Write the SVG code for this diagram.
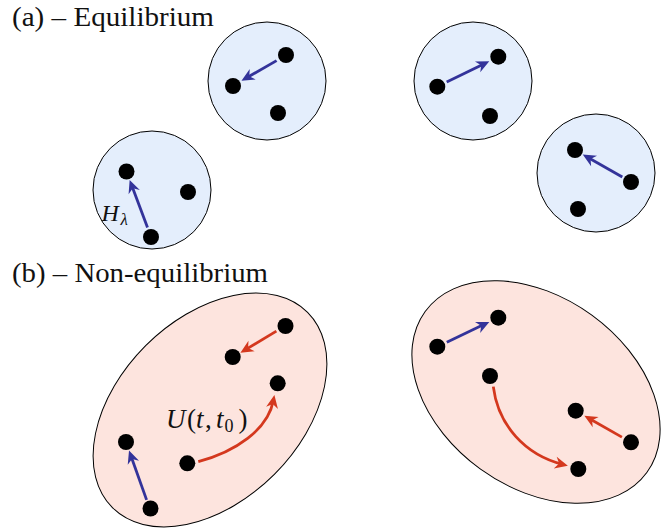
<svg xmlns="http://www.w3.org/2000/svg" width="672" height="529" viewBox="0 0 672 529">
<defs>
<style>
.eq{fill:#e4eefc;stroke:#000;stroke-width:1}
.ne{fill:#fde4de;stroke:#000;stroke-width:1}
.dot{fill:#000}
.blue{fill:none;stroke:#33339a;stroke-width:2.8}
.red{fill:none;stroke:#d4381e;stroke-width:2.8}
</style>
<marker id="hb" markerUnits="userSpaceOnUse" markerWidth="18" markerHeight="16" viewBox="-9 -8 18 16" refX="0" refY="0" orient="auto">
<path d="M5,0 L-8,-6 L-4,0 L-8,6 Z" fill="#33339a"/>
</marker>
<marker id="hr" markerUnits="userSpaceOnUse" markerWidth="18" markerHeight="16" viewBox="-9 -8 18 16" refX="0" refY="0" orient="auto">
<path d="M5,0 L-8,-6 L-4,0 L-8,6 Z" fill="#d4381e"/>
</marker>
</defs>
<rect width="672" height="529" fill="#fff"/>

<g font-family="Liberation Serif, serif" fill="#111">
<text x="12" y="26" font-size="27" textLength="202" lengthAdjust="spacingAndGlyphs">(a) – Equilibrium</text>
<text x="12" y="282" font-size="27" textLength="256" lengthAdjust="spacingAndGlyphs">(b) – Non-equilibrium</text>
</g>

<g id="eq1">
<circle class="eq" cx="152" cy="190" r="59"/>
<circle class="dot" cx="126.5" cy="171.5" r="8"/>
<circle class="dot" cx="188" cy="192" r="8"/>
<circle class="dot" cx="151" cy="237" r="8"/>
</g>
<g id="eq2">
<circle class="eq" cx="267" cy="81" r="59"/>
<circle class="dot" cx="286" cy="55" r="8"/>
<circle class="dot" cx="233" cy="86" r="8"/>
<circle class="dot" cx="278" cy="113" r="8"/>
</g>
<g id="eq3">
<circle class="eq" cx="473" cy="81" r="59"/>
<circle class="dot" cx="437.3" cy="86.7" r="8"/>
<circle class="dot" cx="498.3" cy="56.7" r="8"/>
<circle class="dot" cx="490" cy="116" r="8"/>
</g>
<g id="eq4">
<circle class="eq" cx="596" cy="173" r="59"/>
<circle class="dot" cx="575" cy="150" r="8"/>
<circle class="dot" cx="631" cy="182" r="8"/>
<circle class="dot" cx="578" cy="209" r="8"/>
</g>

<g id="ne1">
<ellipse class="ne" cx="210" cy="410" rx="138" ry="91" transform="rotate(-45 210 410)"/>
<circle class="dot" cx="285.5" cy="326" r="8"/>
<circle class="dot" cx="232.7" cy="357" r="8"/>
<circle class="dot" cx="277.7" cy="383.3" r="8"/>
<circle class="dot" cx="126" cy="442" r="8"/>
<circle class="dot" cx="187.3" cy="463.3" r="8"/>
<circle class="dot" cx="150.5" cy="508.5" r="8"/>
</g>
<g id="ne2">
<ellipse class="ne" cx="536" cy="392" rx="137" ry="95" transform="rotate(36 536 392)"/>
<circle class="dot" cx="437.3" cy="346.7" r="8"/>
<circle class="dot" cx="498.3" cy="317.7" r="8"/>
<circle class="dot" cx="490" cy="376" r="8"/>
<circle class="dot" cx="575.7" cy="410.7" r="8"/>
<circle class="dot" cx="631" cy="442.3" r="8"/>
<circle class="dot" cx="578.3" cy="469" r="8"/>
</g>

<g id="connectors">
<path class="blue" d="M147.5,227.6 L131.4,184.6" marker-end="url(#hb)"/>
<path class="blue" d="M276.6,60.6 L245.8,78.3" marker-end="url(#hb)"/>
<path class="blue" d="M446.7,82.1 L484.8,63.4" marker-end="url(#hb)"/>
<path class="blue" d="M622.3,177 L587.1,157" marker-end="url(#hb)"/>
<path class="red" d="M276.4,331.1 L244.7,350.1" marker-end="url(#hr)"/>
<path class="red" d="M198.3,461.7 C235,452 268,430 273.5,400" marker-end="url(#hr)"/>
<path class="blue" d="M146.6,499.9 L130.7,455.2" marker-end="url(#hb)"/>
<path class="blue" d="M446.8,342.2 L484.8,324.1" marker-end="url(#hb)"/>
<path class="red" d="M493.3,386.7 C498,425 525,455 563,464.5" marker-end="url(#hr)"/>
<path class="red" d="M621.9,437.1 L588.7,418.2" marker-end="url(#hr)"/>
</g>

<g id="labels" font-family="Liberation Serif, serif" fill="#111">
<text y="221" font-size="24"><tspan x="101.5" font-style="italic">H</tspan><tspan x="120.5" y="225" font-size="17" font-style="italic">λ</tspan></text>
<text y="428" font-size="27"><tspan x="166" font-style="italic">U</tspan><tspan x="187">(</tspan><tspan x="196" font-style="italic">t</tspan><tspan x="205">,</tspan><tspan x="216" font-style="italic">t</tspan><tspan x="224.5" y="432" font-size="18">0</tspan><tspan x="238.5" y="428">)</tspan></text>
</g>
</svg>
